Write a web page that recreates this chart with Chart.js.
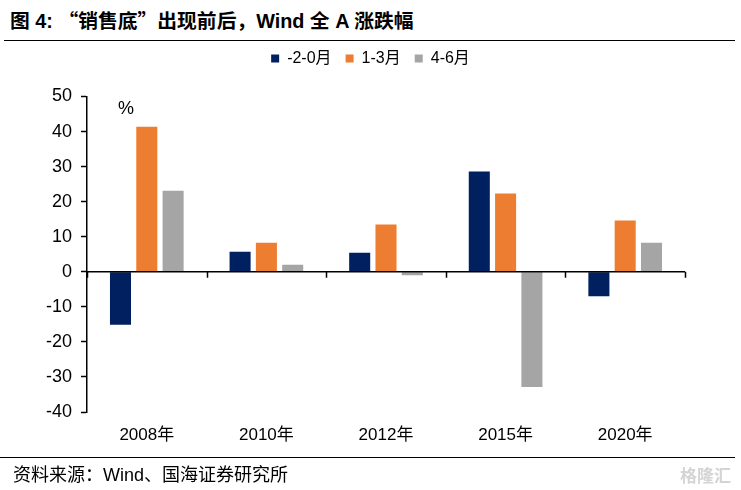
<!DOCTYPE html>
<html lang="zh">
<head>
    <meta charset="UTF-8">
    <title>销售底</title>
    <style>
        body {
            margin: 0;
            width: 741px;
            height: 490px;
            position: relative;
            background: #fff;
            font-family: "Liberation Sans", Arial, "Noto Sans CJK SC", sans-serif;
            overflow: hidden;
        }
        .title {
            position: absolute;
            left: 10px;
            top: 5px;
            font-size: 19.8px;
            font-weight: bold;
            color: #000;
            white-space: nowrap;
        }
        .cjk {
            font-family: "Noto Sans CJK SC", sans-serif;
        }
        .title-line {
            position: absolute;
            left: 4px;
            right: 6px;
            top: 40px;
            border-top: 1.5px solid #000;
        }
        .foot-line {
            position: absolute;
            left: 0;
            right: 6px;
            top: 457px;
            border-top: 1px solid #000;
        }
        .source {
            position: absolute;
            left: 13px;
            top: 460px;
            font-size: 18px;
            color: #000;
            white-space: nowrap;
        }
        .mark {
            position: absolute;
            right: 10px;
            top: 462px;
            font-size: 17px;
            font-weight: bold;
            color: #d4d4d4;
        }
        .chart-box {
            position: absolute;
            left: 0;
            top: 0;
            width: 741px;
            height: 490px;
        }
    </style>
</head>
<body>
    <div class="title">图 4: <span class="cjk">“销售底”</span>出现前后，Wind 全 A 涨跌幅</div>
    <div class="title-line"></div>
    <div class="chart-box">
        <canvas id="chart"></canvas>
    </div>
    <div class="foot-line"></div>
    <div class="source">资料来源：Wind、国海证券研究所</div>
    <div class="mark">格隆汇</div>

    <script src="https://cdn.jsdelivr.net/npm/chart.js"></script>
    <script>
        // 数据
        const years = ['2008年', '2010年', '2012年', '2015年', '2020年'];
        const before = [-15.1, 5.7, 5.4, 28.6, -7.0];     // -2-0月
        const after13 = [41.4, 8.3, 13.5, 22.3, 14.6];    // 1-3月
        const after46 = [23.1, 2.0, -1.0, -32.9, 8.3];    // 4-6月

        const fontName = '"Liberation Sans", Arial, "Noto Sans CJK SC", sans-serif';

        // 0轴上的分类刻度和 % 标记
        const zeroAxis = {
            id: 'zeroAxis',
            beforeInit(chart) {
                const fit = chart.legend.fit;
                chart.legend.fit = function () {
                    fit.bind(chart.legend)();
                    this.height += 20;
                };
            },
            afterLayout(chart) {
                // 图例居中于整张图
                chart.legend.left += 28;
                chart.legend.right += 28;
            },
            afterDatasetsDraw(chart) {
                const { ctx } = chart;
                const x = chart.scales.x;
                const y = chart.scales.y;
                const y0 = y.getPixelForValue(0);
                ctx.save();
                ctx.strokeStyle = '#000';
                ctx.lineWidth = 1.5;
                ctx.beginPath();
                ctx.moveTo(x.left, y0);
                ctx.lineTo(x.right, y0);
                for (let i = 0; i <= years.length; i++) {
                    const px = Math.round(x.getPixelForValue(i - 0.5)) + 0.5;
                    ctx.moveTo(px, y0);
                    ctx.lineTo(px, y0 + 6);
                }
                ctx.stroke();
                ctx.fillStyle = '#000';
                ctx.font = '18px ' + fontName;
                ctx.textAlign = 'left';
                ctx.textBaseline = 'middle';
                ctx.fillText('%', x.left + 31, y.getPixelForValue(46.5));
                ctx.restore();
            }
        };

        new Chart(document.getElementById('chart'), {
            type: 'bar',
            data: {
                labels: years,
                datasets: [
                    { label: '-2-0月', data: before, backgroundColor: '#002060' },
                    { label: '1-3月', data: after13, backgroundColor: '#ED7D31' },
                    { label: '4-6月', data: after46, backgroundColor: '#A5A5A5' }
                ]
            },
            options: {
                responsive: true,
                maintainAspectRatio: false,
                animation: false,
                categoryPercentage: 0.66,
                barPercentage: 0.8,
                layout: { padding: { top: 36.5, right: 56, left: 0, bottom: 0 } },
                plugins: {
                    legend: {
                        position: 'top',
                        labels: {
                            boxWidth: 8,
                            boxHeight: 8,
                            padding: 14,
                            color: '#000',
                            font: { family: fontName, size: 16 }
                        }
                    },
                    tooltip: { enabled: false }
                },
                scales: {
                    x: {
                        grid: { display: false },
                        border: { display: false },
                        ticks: {
                            color: '#000',
                            padding: 5,
                            font: { family: fontName, size: 17 }
                        },
                        afterFit(s) { s.height = 78; }
                    },
                    y: {
                        min: -40,
                        max: 50,
                        ticks: {
                            stepSize: 10,
                            color: '#000',
                            padding: 9,
                            font: { family: fontName, size: 18 }
                        },
                        grid: {
                            drawOnChartArea: false,
                            tickLength: 6,
                            tickColor: '#000',
                            tickWidth: 1.5
                        },
                        border: { color: '#000', width: 1.5 },
                        afterFit(s) { s.width = 87; }
                    }
                }
            },
            plugins: [zeroAxis]
        });
    </script>
</body>
</html>
